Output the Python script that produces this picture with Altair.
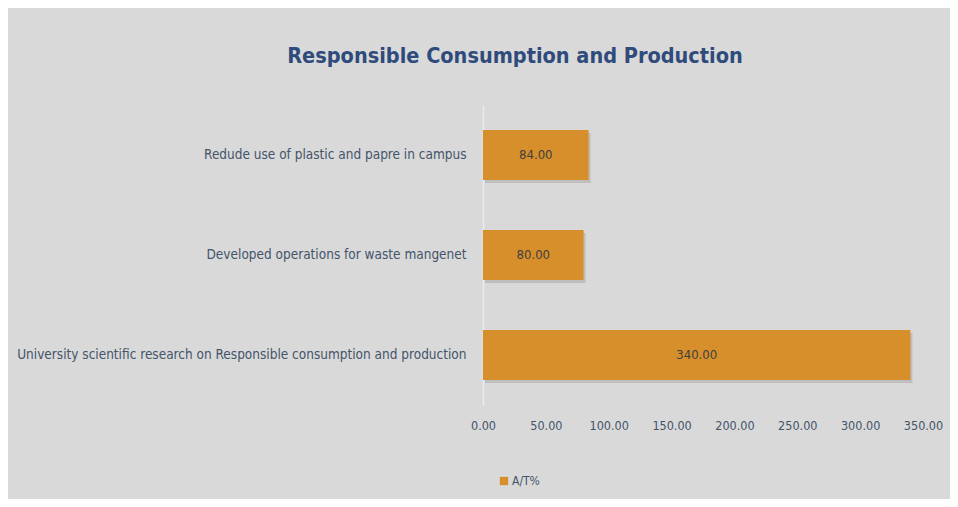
import altair as alt
import pandas as pd

categories = [
    "Redude use of plastic and papre in campus",
    "Developed operations for waste mangenet",
    "University scientific research on Responsible consumption and production",
]
values = [84.0, 80.0, 340.0]
series_name = "A/T%"
x_ticks = [0, 50, 100, 150, 200, 250, 300, 350]

df = pd.DataFrame({"category": categories, "value": values, "series": [series_name] * len(categories)})

FONT = "DejaVu Sans Condensed, Liberation Sans Narrow, Roboto, sans-serif"
LABEL_COLOR = "#44546a"
BAR_COLOR = "#D68F2A"

y_enc = alt.Y(
    "category:N",
    sort=categories,
    scale=alt.Scale(paddingInner=0.5, paddingOuter=0.25),
    axis=alt.Axis(
        title=None, labelFont=FONT, labelFontSize=13.5, labelColor=LABEL_COLOR,
        ticks=False, domainColor="#ececec", domainWidth=1.5, labelPadding=17, labelLimit=700,
    ),
)
x_enc = alt.X(
    "value:Q",
    scale=alt.Scale(domain=[0, 350], nice=False),
    axis=alt.Axis(
        values=x_ticks, format=".2f", grid=False, ticks=False, domain=False,
        labelPadding=14, labelFont=FONT, labelFontSize=12.5, labelColor=LABEL_COLOR,
        labelFlush=False, title=None,
    ),
)

base = alt.Chart(df)

shadow = base.mark_bar(color="#8c8c8c", opacity=0.35, yOffset=3, xOffset=2).encode(x=x_enc, y=y_enc)

bars = base.mark_bar().encode(
    x=x_enc,
    y=y_enc,
    color=alt.Color(
        "series:N",
        scale=alt.Scale(domain=[series_name], range=[BAR_COLOR]),
        legend=alt.Legend(
            title=None, orient="none", legendX=15, legendY=370, symbolType="square",
            symbolSize=70, symbolStrokeWidth=0, labelFont=FONT, labelFontSize=12,
            labelColor=LABEL_COLOR, labelOffset=2,
        ),
    ),
)

labels = base.mark_text(font=FONT, fontSize=13, color="#404040").encode(
    x=alt.X("mid:Q", scale=alt.Scale(domain=[0, 350], nice=False)),
    y=alt.Y("category:N", sort=categories),
    text=alt.Text("value:Q", format=".2f"),
).transform_calculate(mid="datum.value / 2")

chart = (
    alt.layer(shadow, bars, labels)
    .properties(
        width=440,
        height=300,
        padding={"left": 475, "top": 97, "right": 27, "bottom": 94},
        autosize=alt.AutoSizeParams(type="none"),
        background="#d9d9d9",
        title=alt.Title(
            "Responsible Consumption and Production",
            font=FONT, fontSize=21.5, fontWeight="bold", color="#2f4b7c",
            anchor="middle", frame="group", dx=-188, offset=38,
        ),
    )
    .configure_view(stroke=None)
)

chart.save("out.html", embed_options={"renderer": "svg", "actions": False})
